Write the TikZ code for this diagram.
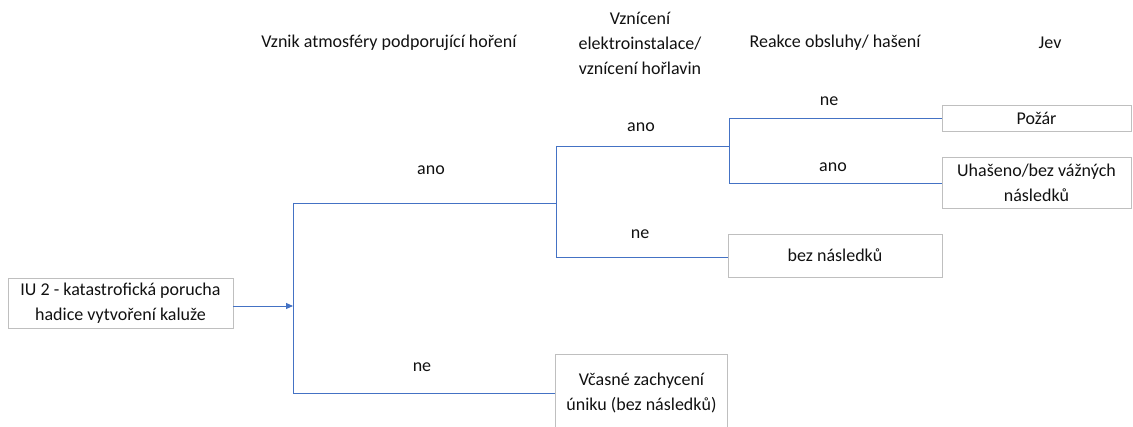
\documentclass[tikz,border=0pt]{standalone}
\usepackage{fontspec}
\setmainfont{Carlito}
\usetikzlibrary{arrows.meta}
\definecolor{linkblue}{HTML}{4472C4}
\definecolor{boxgray}{HTML}{BFBFBF}
\definecolor{inktext}{HTML}{111111}
\begin{document}
\begin{tikzpicture}[x=1pt,y=-1pt,
  every node/.style={font=\fontsize{18}{25}\selectfont, text=inktext, inner sep=0pt},
  outcome/.style={draw=boxgray, line width=0.9pt, align=center},
  link/.style={draw=linkblue, line width=0.9pt},
  header/.style={align=center}]
\clip (0,0) rectangle (1133,427);

% column headings
\node[header] (h1) at (389,43) {Vznik atmosféry podporující hoření};
\node[header] (h2) at (640,43) {Vznícení\\elektroinstalace/\\vznícení hořlavin};
\node[header] (h3) at (835,43) {Reakce obsluhy/ hašení};
\node[header] (h4) at (1050,43) {Jev};

% initiating event and outcomes
\node[outcome, minimum width=225pt, minimum height=50pt] (iu) at (120.5,303) {IU 2 - katastrofická porucha\\hadice vytvoření kaluže};
\node[outcome, minimum width=214pt, minimum height=43pt] (bez) at (835,255.5) {bez následků};
\node[outcome, minimum width=189pt, minimum height=26pt] (pozar) at (1036.5,118.5) {Požár};
\node[outcome, minimum width=189pt, minimum height=51pt] (uhas) at (1036.5,183) {Uhašeno/bez vážných\\následků};
\node[outcome, minimum width=172pt, minimum height=78pt] (vcas) at (641.5,393) {Včasné zachycení\\úniku (bez následků)};

% branch points
\coordinate (r) at (293,306);
\coordinate (rtop) at (293,203);
\coordinate (rbot) at (293,393);
\coordinate (s2) at (556,203);
\coordinate (s2top) at (556,146);
\coordinate (s2bot) at (556,257);
\coordinate (s3) at (729,146);
\coordinate (s3top) at (729,118.5);
\coordinate (s3bot) at (729,183);

% connectors
\draw[link, -{Triangle[length=7pt,width=6pt]}] (iu.east |- r) -- (r);
\draw[link] (rtop) -- (rbot);
\draw[link] (rtop) -- (s2);
\draw[link] (rbot) -- (vcas.west |- rbot);
\draw[link] (s2top) -- (s2bot);
\draw[link] (s2top) -- (s3);
\draw[link] (s2bot) -- (bez.west |- s2bot);
\draw[link] (s3top) -- (s3bot);
\draw[link] (s3top) -- (pozar.west);
\draw[link] (s3bot) -- (uhas.west);

% branch labels
\node (l1) at (431,170) {ano};
\node (l2) at (422,367) {ne};
\node (l3) at (641,127) {ano};
\node (l4) at (640,234) {ne};
\node (l5) at (829,101) {ne};
\node (l6) at (833,167) {ano};
\end{tikzpicture}
\end{document}
